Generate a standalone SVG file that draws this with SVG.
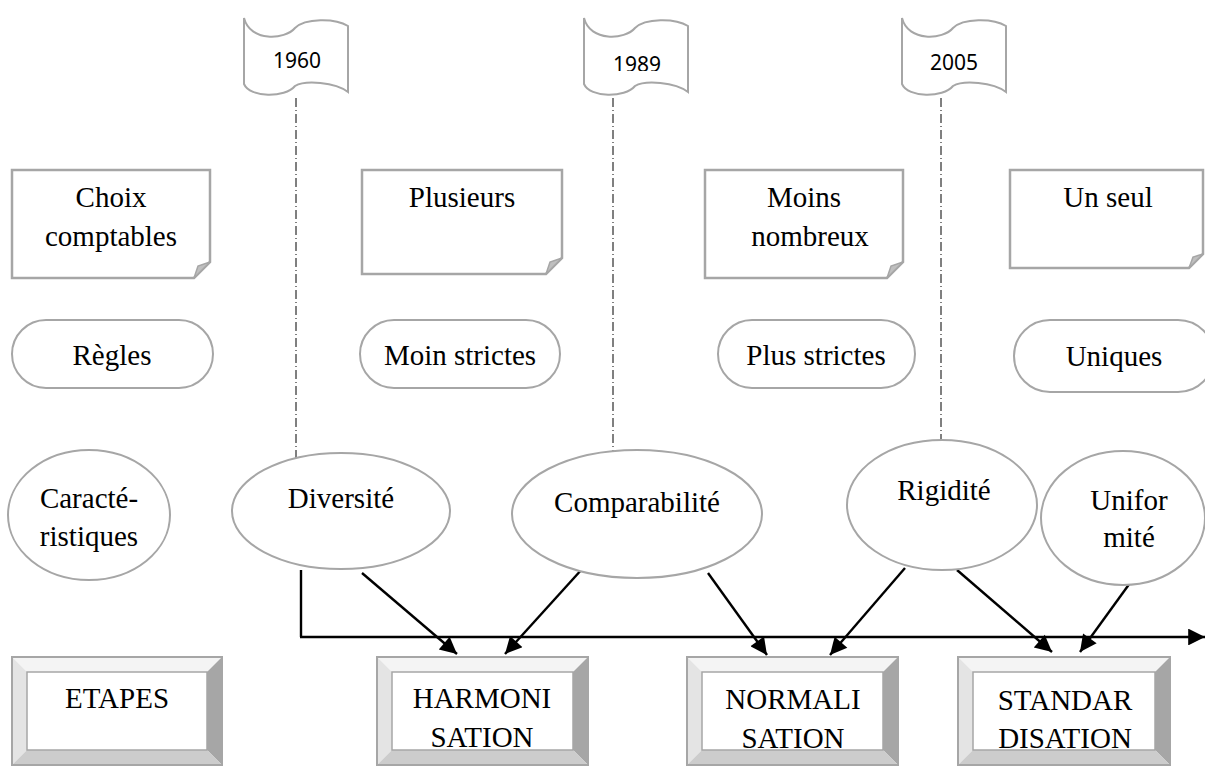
<svg xmlns="http://www.w3.org/2000/svg" width="1205" height="769" viewBox="0 0 1205 769">
<style>
.flag{fill:#fff;stroke:#a6a6a6;stroke-width:2}
.note{fill:#fff;stroke:#a6a6a6;stroke-width:2.5}
.fold{fill:#bfbfbf;stroke:#a6a6a6;stroke-width:1.5}
.pill{fill:#fff;stroke:#a6a6a6;stroke-width:2}
.ell{fill:#fff;stroke:#a6a6a6;stroke-width:2}
.t{font-family:"Liberation Serif","Times New Roman",serif;font-size:29px;fill:#000;text-anchor:middle}
.y{font-family:"Noto Sans","Liberation Sans",sans-serif;font-size:21px;fill:#000;text-anchor:middle}
.dd{stroke:#000;stroke-width:1;stroke-dasharray:9,3,1,3;fill:none}
.ar{stroke:#000;stroke-width:2.4;fill:none;marker-end:url(#ah)}
.bt{fill:#f4f4f4}.bl{fill:#e4e4e4}.br{fill:#a6a6a6}.bb{fill:#cccccc}
</style>
<defs>
<marker id="ah" viewBox="0 0 10 10" refX="10" refY="5" markerWidth="8" markerHeight="7" markerUnits="strokeWidth" orient="auto">
<path d="M0,0 L10,5 L0,10 Z" fill="#000"/>
</marker>
<clipPath id="c1989"><rect x="584" y="20" width="104" height="51"/></clipPath>
</defs>
<rect width="1205" height="769" fill="#fff"/>

<g id="connectors">
<line class="dd" x1="296" y1="98" x2="296" y2="458"/>
<line class="dd" x1="613" y1="98" x2="613" y2="451"/>
<line class="dd" x1="941" y1="98" x2="941" y2="442"/>
<polyline points="301,570 301,637" stroke="#000" stroke-width="2.4" fill="none"/>
<line class="ar" x1="300" y1="637" x2="1205" y2="637"/>
<line class="ar" x1="362" y1="573" x2="457" y2="654"/>
<line class="ar" x1="583" y1="568" x2="505" y2="654"/>
<line class="ar" x1="708" y1="573" x2="767" y2="655"/>
<line class="ar" x1="905" y1="568" x2="830" y2="655"/>
<line class="ar" x1="957" y1="570" x2="1052" y2="652"/>
<line class="ar" x1="1130" y1="583" x2="1080" y2="652"/>
</g>

<g id="flag1960">
<path class="flag" d="M244,18 C250,42 285,40 295,28 C305,18 335,18 348,26 L348,92 C335,82 305,80 295,86 C285,98 250,98 244,84 Z"/>
<text class="y" x="297" y="68">1960</text>
</g>
<g id="flag1989">
<path class="flag" d="M584,18 C590,42 625,40 635,28 C645,18 675,18 688,26 L688,92 C675,82 645,80 635,86 C625,98 590,98 584,84 Z"/>
<text class="y" x="637" y="72" clip-path="url(#c1989)">1989</text>
</g>
<g id="flag2005">
<path class="flag" d="M902,18 C908,42 943,40 953,28 C963,18 993,18 1006,26 L1006,92 C993,82 963,80 953,86 C943,98 908,98 902,84 Z"/>
<text class="y" x="954" y="70">2005</text>
</g>

<g id="note-choix">
<path class="note" d="M12,170 H210 V262 L194,278 H12 Z"/>
<path class="fold" d="M194,278 L210,262 L198,266 Z"/>
<text class="t" x="111" y="207">Choix</text>
<text class="t" x="111" y="246">comptables</text>
</g>
<g id="note-plusieurs">
<path class="note" d="M362,170 H562 V258 L546,274 H362 Z"/>
<path class="fold" d="M546,274 L562,258 L550,262 Z"/>
<text class="t" x="462" y="207">Plusieurs</text>
</g>
<g id="note-moins">
<path class="note" d="M705,170 H903 V262 L887,278 H705 Z"/>
<path class="fold" d="M887,278 L903,262 L891,266 Z"/>
<text class="t" x="804" y="207">Moins</text>
<text class="t" x="810" y="246">nombreux</text>
</g>
<g id="note-unseul">
<path class="note" d="M1010,170 H1203 V254 L1189,268 H1010 Z"/>
<path class="fold" d="M1189,268 L1203,254 L1193,257 Z"/>
<text class="t" x="1108" y="207">Un seul</text>
</g>

<g id="pill-regles">
<rect class="pill" x="12" y="320" width="201" height="68" rx="34"/>
<text class="t" x="112" y="365">Règles</text>
</g>
<g id="pill-moin">
<rect class="pill" x="360" y="320" width="200" height="68" rx="34"/>
<text class="t" x="460" y="365">Moin strictes</text>
</g>
<g id="pill-plus">
<rect class="pill" x="718" y="320" width="197" height="68" rx="34"/>
<text class="t" x="816" y="365">Plus strictes</text>
</g>
<g id="pill-uniques">
<rect class="pill" x="1014" y="320" width="200" height="72" rx="36"/>
<text class="t" x="1114" y="366">Uniques</text>
</g>

<g id="ell-caract">
<ellipse class="ell" cx="89" cy="515" rx="81" ry="65"/>
<text class="t" x="89" y="508">Caracté-</text>
<text class="t" x="89" y="546">ristiques</text>
</g>
<g id="ell-diversite">
<ellipse class="ell" cx="341" cy="511" rx="109" ry="58"/>
<text class="t" x="341" y="508">Diversité</text>
</g>
<g id="ell-compar">
<ellipse class="ell" cx="637" cy="514" rx="125" ry="64"/>
<text class="t" x="637" y="512">Comparabilité</text>
</g>
<g id="ell-rigidite">
<ellipse class="ell" cx="942" cy="505" rx="95" ry="65"/>
<text class="t" x="944" y="500">Rigidité</text>
</g>
<g id="ell-uniformite">
<ellipse class="ell" cx="1123" cy="518" rx="82" ry="67"/>
<text class="t" x="1129" y="510">Unifor</text>
<text class="t" x="1129" y="547">mité</text>
</g>

<g id="step-etapes">
<polygon class="bt" points="12,657 222,657 207,672 27,672"/>
<polygon class="bl" points="12,657 27,672 27,750 12,765"/>
<polygon class="br" points="222,657 222,765 207,750 207,672"/>
<polygon class="bb" points="12,765 27,750 207,750 222,765"/>
<rect x="12" y="657" width="210" height="108" fill="none" stroke="#a6a6a6" stroke-width="2"/>
<rect x="27" y="672" width="180" height="78" fill="#fff" stroke="#a6a6a6" stroke-width="1.5"/>
<text class="t" x="117" y="708">ETAPES</text>
</g>
<g id="step-harmo">
<polygon class="bt" points="377,657 588,657 573,672 392,672"/>
<polygon class="bl" points="377,657 392,672 392,750 377,765"/>
<polygon class="br" points="588,657 588,765 573,750 573,672"/>
<polygon class="bb" points="377,765 392,750 573,750 588,765"/>
<rect x="377" y="657" width="211" height="108" fill="none" stroke="#a6a6a6" stroke-width="2"/>
<rect x="392" y="672" width="181" height="78" fill="#fff" stroke="#a6a6a6" stroke-width="1.5"/>
<text class="t" x="482" y="708">HARMONI</text>
<text class="t" x="482" y="747">SATION</text>
</g>
<g id="step-normal">
<polygon class="bt" points="687,657 898,657 883,672 702,672"/>
<polygon class="bl" points="687,657 702,672 702,750 687,765"/>
<polygon class="br" points="898,657 898,765 883,750 883,672"/>
<polygon class="bb" points="687,765 702,750 883,750 898,765"/>
<rect x="687" y="657" width="211" height="108" fill="none" stroke="#a6a6a6" stroke-width="2"/>
<rect x="702" y="672" width="181" height="78" fill="#fff" stroke="#a6a6a6" stroke-width="1.5"/>
<text class="t" x="793" y="709">NORMALI</text>
<text class="t" x="793" y="748">SATION</text>
</g>
<g id="step-standard">
<polygon class="bt" points="958,657 1170,657 1155,672 973,672"/>
<polygon class="bl" points="958,657 973,672 973,750 958,765"/>
<polygon class="br" points="1170,657 1170,765 1155,750 1155,672"/>
<polygon class="bb" points="958,765 973,750 1155,750 1170,765"/>
<rect x="958" y="657" width="212" height="108" fill="none" stroke="#a6a6a6" stroke-width="2"/>
<rect x="973" y="672" width="182" height="78" fill="#fff" stroke="#a6a6a6" stroke-width="1.5"/>
<text class="t" x="1065" y="710">STANDAR</text>
<text class="t" x="1065" y="748">DISATION</text>
</g>
</svg>
